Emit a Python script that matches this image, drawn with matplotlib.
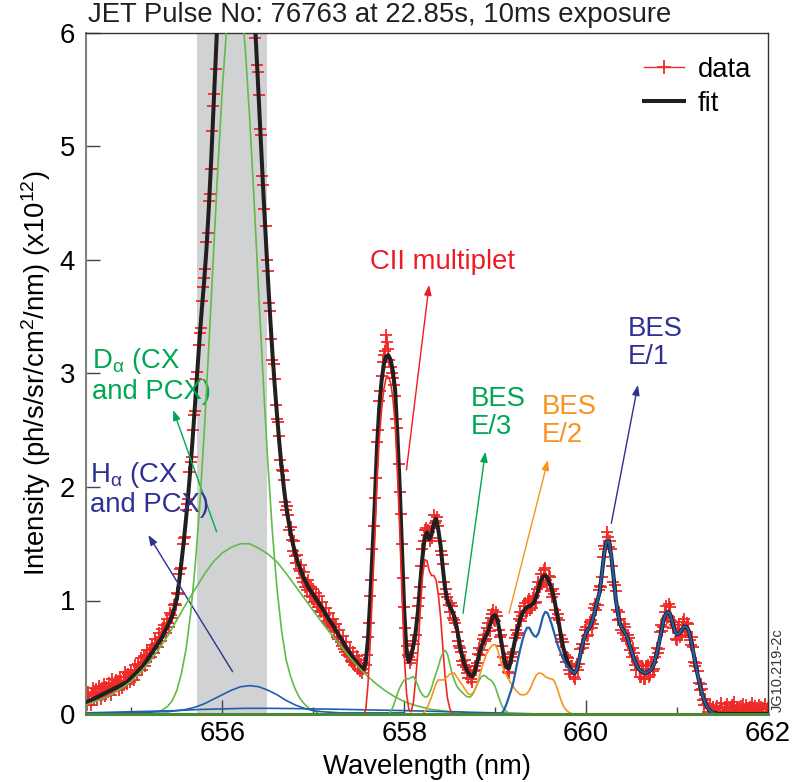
import numpy as np
import matplotlib
matplotlib.use('Agg')
import matplotlib.pyplot as plt
from matplotlib.lines import Line2D

plt.rcParams['font.family'] = 'Liberation Sans'
plt.rcParams['mathtext.fontset'] = 'custom'
plt.rcParams['mathtext.rm'] = 'Liberation Sans'
plt.rcParams['mathtext.it'] = 'Liberation Sans:italic'

FS = 19.8

# fit curve, sampled every 0.025 nm
fit_wl = np.linspace(654.5, 662.0, 301)
fit = [
    0.10, 0.11, 0.12, 0.13, 0.14, 0.15, 0.16, 0.17, 0.18, 0.19,
    0.20, 0.21, 0.22, 0.23, 0.24, 0.25, 0.26, 0.27, 0.28, 0.30,
    0.32, 0.34, 0.36, 0.38, 0.40, 0.42, 0.45, 0.48, 0.51, 0.54,
    0.57, 0.60, 0.63, 0.66, 0.70, 0.74, 0.78, 0.82, 0.87, 0.94,
    1.02, 1.17, 1.34, 1.52, 1.72, 1.94, 2.18, 2.45, 2.74, 3.04,
    3.32, 3.58, 3.82, 4.10, 4.45, 4.85, 5.30, 5.75, 6.20, 6.65,
    7.10, 7.45, 7.75, 8.00, 8.15, 8.25, 8.30, 8.25, 8.12, 7.92,
    7.65, 7.35, 7.00, 6.62, 6.22, 5.82, 5.42, 5.00, 4.60, 4.22,
    3.85, 3.50, 3.18, 2.90, 2.64, 2.40, 2.18, 2.00, 1.84, 1.71,
    1.60, 1.50, 1.42, 1.35, 1.29, 1.24, 1.19, 1.15, 1.11, 1.08,
    1.05, 1.02, 0.99, 0.96, 0.93, 0.89, 0.86, 0.83, 0.80, 0.77,
    0.73, 0.70, 0.67, 0.64, 0.60, 0.57, 0.54, 0.51, 0.48, 0.46,
    0.43, 0.41, 0.39, 0.45, 0.65, 1.00, 1.42, 1.85, 2.35, 2.70,
    2.93, 3.08, 3.15, 3.16, 3.12, 3.02, 2.85, 2.45, 2.00, 1.45,
    0.90, 0.55, 0.46, 0.52, 0.60, 0.72, 0.90, 1.15, 1.38, 1.56,
    1.60, 1.54, 1.58, 1.68, 1.72, 1.62, 1.48, 1.28, 1.10, 1.00,
    0.95, 0.91, 0.86, 0.77, 0.66, 0.55, 0.47, 0.41, 0.37, 0.34,
    0.33, 0.37, 0.45, 0.53, 0.60, 0.65, 0.69, 0.74, 0.80, 0.86,
    0.87, 0.83, 0.72, 0.60, 0.48, 0.41, 0.40, 0.48, 0.58, 0.68,
    0.76, 0.84, 0.89, 0.92, 0.94, 0.95, 0.96, 0.98, 1.03, 1.10,
    1.17, 1.21, 1.22, 1.20, 1.15, 1.09, 1.01, 0.90, 0.80, 0.68,
    0.58, 0.51, 0.45, 0.40, 0.37, 0.36, 0.40, 0.48, 0.58, 0.66,
    0.72, 0.75, 0.78, 0.84, 0.92, 1.00, 1.08, 1.25, 1.42, 1.52,
    1.52, 1.40, 1.22, 1.02, 0.88, 0.79, 0.75, 0.72, 0.68, 0.62,
    0.55, 0.49, 0.44, 0.40, 0.38, 0.37, 0.36, 0.37, 0.38, 0.40,
    0.45, 0.53, 0.62, 0.72, 0.82, 0.88, 0.90, 0.88, 0.80, 0.73,
    0.70, 0.71, 0.74, 0.77, 0.77, 0.74, 0.66, 0.56, 0.45, 0.35,
    0.26, 0.18, 0.12, 0.07, 0.04, 0.02, 0.01, 0.01, 0.00, 0.00,
    0.00, 0.00, 0.00, 0.00, 0.00, 0.00, 0.00, 0.00, 0.00, 0.00,
    0.00, 0.00, 0.00, 0.00, 0.00, 0.00, 0.00, 0.00, 0.00, 0.00,
    0.00,
]

# measured spectrum, one pixel every 0.0125 nm
data_wl = np.linspace(654.5, 662.0, 601)
data = [
    0.16, 0.08, 0.19, 0.13, 0.08, 0.18, 0.23, 0.12, 0.18, 0.22, 0.12, 0.25, 0.18, 0.13, 0.23, 0.19, 0.26, 0.16, 0.24, 0.19,
    0.27, 0.23, 0.17, 0.31, 0.25, 0.21, 0.30, 0.25, 0.29, 0.21, 0.33, 0.29, 0.23, 0.33, 0.37, 0.29, 0.26, 0.35, 0.32, 0.28,
    0.39, 0.34, 0.30, 0.43, 0.39, 0.34, 0.44, 0.41, 0.49, 0.39, 0.46, 0.51, 0.42, 0.52, 0.56, 0.49, 0.56, 0.50, 0.61, 0.58,
    0.54, 0.66, 0.62, 0.59, 0.71, 0.68, 0.64, 0.75, 0.71, 0.78, 0.71, 0.84, 0.80, 0.77, 0.89, 0.87, 0.85, 0.96, 0.97, 0.96,
    1.07, 1.06, 1.23, 1.28, 1.29, 1.50, 1.55, 1.56, 1.80, 1.85, 1.89, 2.13, 2.22, 2.26, 2.50, 2.63, 2.67, 2.95, 3.01, 3.25,
    3.36, 3.40, 3.64, 3.76, 3.84, 3.92, 4.16, 4.24, 4.52, 4.58, 4.80, 5.14, 5.36, 5.46, 5.68, 6.05, 6.30, 6.35, 6.70, 6.90,
    7.20, 7.30, 7.50, 7.60, 7.80, 7.90, 8.00, 8.10, 8.20, 8.20, 8.30, 8.30, 8.30, 8.20, 8.30, 8.20, 8.10, 8.00, 7.90, 7.80,
    7.70, 7.45, 7.30, 7.20, 7.05, 6.75, 6.55, 6.35, 6.28, 5.96, 5.72, 5.66, 5.45, 5.15, 5.10, 4.74, 4.66, 4.45, 4.30, 4.00,
    3.90, 3.62, 3.55, 3.30, 3.12, 3.08, 2.95, 2.72, 2.60, 2.57, 2.45, 2.24, 2.15, 2.14, 2.06, 1.87, 1.80, 1.83, 1.75, 1.62,
    1.65, 1.53, 1.44, 1.52, 1.39, 1.33, 1.40, 1.28, 1.26, 1.31, 1.20, 1.16, 1.25, 1.12, 1.09, 1.18, 1.13, 1.04, 1.12, 1.03,
    1.10, 0.99, 1.07, 0.97, 0.94, 1.04, 0.91, 0.90, 0.99, 0.86, 0.87, 0.93, 0.82, 0.80, 0.89, 0.78, 0.77, 0.84, 0.73, 0.79,
    0.79, 0.68, 0.66, 0.74, 0.63, 0.60, 0.69, 0.57, 0.55, 0.63, 0.52, 0.51, 0.58, 0.47, 0.46, 0.55, 0.43, 0.45, 0.51, 0.40,
    0.48, 0.38, 0.44, 0.36, 0.40, 0.45, 0.43, 0.52, 0.68, 0.80, 1.04, 1.18, 1.45, 1.66, 1.90, 2.08, 2.40, 2.50, 2.76, 2.85,
    2.98, 3.10, 3.16, 3.20, 3.34, 3.28, 3.22, 3.12, 3.06, 3.00, 2.96, 2.90, 2.80, 2.60, 2.52, 2.20, 1.96, 1.76, 1.50, 1.20,
    0.94, 0.76, 0.60, 0.52, 0.50, 0.45, 0.48, 0.54, 0.64, 0.62, 0.70, 0.85, 0.95, 1.02, 1.12, 1.30, 1.45, 1.52, 1.62, 1.64,
    1.58, 1.62, 1.60, 1.52, 1.55, 1.66, 1.75, 1.68, 1.70, 1.74, 1.66, 1.52, 1.44, 1.40, 1.32, 1.16, 1.06, 1.10, 1.03, 0.96,
    0.90, 0.98, 0.95, 0.85, 0.83, 0.80, 0.72, 0.64, 0.60, 0.58, 0.55, 0.47, 0.43, 0.48, 0.41, 0.36, 0.32, 0.39, 0.37, 0.31,
    0.28, 0.38, 0.42, 0.39, 0.45, 0.53, 0.58, 0.52, 0.56, 0.66, 0.70, 0.64, 0.66, 0.76, 0.80, 0.73, 0.85, 0.88, 0.92, 0.83,
    0.82, 0.90, 0.86, 0.74, 0.68, 0.70, 0.60, 0.50, 0.43, 0.49, 0.45, 0.37, 0.36, 0.47, 0.53, 0.50, 0.55, 0.67, 0.74, 0.70,
    0.71, 0.84, 0.90, 0.82, 0.86, 0.95, 0.98, 0.89, 0.91, 1.00, 1.01, 0.92, 0.93, 1.02, 1.04, 0.98, 0.99, 1.10, 1.16, 1.12,
    1.23, 1.15, 1.16, 1.27, 1.29, 1.18, 1.14, 1.22, 1.21, 1.08, 1.03, 1.10, 1.06, 0.92, 0.85, 0.88, 0.83, 0.70, 0.63, 0.66,
    0.63, 0.52, 0.46, 0.50, 0.49, 0.39, 0.35, 0.42, 0.42, 0.33, 0.31, 0.41, 0.44, 0.39, 0.44, 0.57, 0.62, 0.58, 0.62, 0.74,
    0.77, 0.69, 0.70, 0.81, 0.83, 0.76, 0.79, 0.93, 0.97, 0.92, 0.96, 1.09, 1.13, 1.12, 1.21, 1.38, 1.48, 1.45, 1.60, 1.56,
    1.47, 1.52, 1.45, 1.30, 1.16, 1.14, 1.08, 0.92, 0.83, 0.90, 0.84, 0.74, 0.71, 0.79, 0.77, 0.66, 0.64, 0.70, 0.67, 0.56,
    0.50, 0.58, 0.54, 0.43, 0.39, 0.47, 0.45, 0.33, 0.33, 0.42, 0.40, 0.31, 0.31, 0.42, 0.43, 0.33, 0.34, 0.45, 0.46, 0.38,
    0.40, 0.50, 0.58, 0.54, 0.57, 0.72, 0.78, 0.73, 0.77, 0.90, 0.95, 0.85, 0.86, 0.97, 0.94, 0.82, 0.76, 0.81, 0.78, 0.66,
    0.65, 0.75, 0.78, 0.68, 0.70, 0.81, 0.84, 0.73, 0.72, 0.80, 0.79, 0.65, 0.61, 0.68, 0.59, 0.46, 0.42, 0.45, 0.38, 0.27,
    0.21, 0.26, 0.22, 0.12, 0.08, 0.13, 0.09, 0.02, 0.05, 0.08, 0.00, 0.04, 0.06, -0.01, 0.02, 0.07, 0.03, -0.02, 0.05, 0.10,
    0.02, -0.01, 0.06, 0.03, 0.09, 0.01, -0.02, 0.05, 0.08, 0.02, 0.11, 0.03, -0.01, 0.06, 0.04, 0.00, 0.07, 0.02, 0.09, 0.03,
    0.01, 0.08, 0.04, -0.02, 0.06, 0.03, 0.10, 0.01, 0.05, 0.07, -0.01, 0.04, 0.08, 0.02, 0.06, -0.02, 0.05, 0.09, 0.02, 0.04,
    0.05,
]

# fitted components
da_nar_wl = np.linspace(655.30, 657.05, 36)
da_nar = [0.02, 0.04, 0.07, 0.12, 0.21, 0.36, 0.57, 0.88, 1.30, 1.83,
          2.48, 3.23, 4.02, 4.81, 5.52, 6.08, 6.41, 6.50, 6.31, 5.88,
          5.25, 4.50, 3.70, 2.92, 2.21, 1.60, 1.11, 0.74, 0.48, 0.33,
          0.22, 0.14, 0.09, 0.05, 0.03, 0.01]

da_brd_wl = np.linspace(654.5, 662.0, 76)
da_brd = [0.08, 0.11, 0.14, 0.18, 0.23, 0.29, 0.37, 0.46, 0.57, 0.69,
          0.83, 0.97, 1.10, 1.23, 1.34, 1.42, 1.47, 1.50, 1.50, 1.46,
          1.41, 1.34, 1.24, 1.13, 1.02, 0.91, 0.80, 0.70, 0.60, 0.50,
          0.41, 0.33, 0.26, 0.20, 0.15, 0.11, 0.08, 0.06, 0.04, 0.03,
          0.02, 0.02, 0.01, 0.01, 0.01, 0.00, 0.00, 0.00, 0.00, 0.00,
          0.00, 0.00, 0.00, 0.00, 0.00, 0.00, 0.00, 0.00, 0.00, 0.00,
          0.00, 0.00, 0.00, 0.00, 0.00, 0.00, 0.00, 0.00, 0.00, 0.00,
          0.00, 0.00, 0.00, 0.00, 0.00, 0.00]

ha_nar_wl = np.linspace(654.5, 658.0, 36)
ha_nar = [0.01, 0.01, 0.01, 0.01, 0.01, 0.01, 0.01, 0.015, 0.02, 0.02,
          0.03, 0.04, 0.06, 0.09, 0.13, 0.17, 0.21, 0.24, 0.25, 0.24,
          0.21, 0.17, 0.12, 0.08, 0.05, 0.03, 0.02, 0.015, 0.01, 0.01,
          0.01, 0.01, 0.01, 0.01, 0.01, 0.01]

ha_brd_wl = np.linspace(654.5, 659.5, 21)
ha_brd = [0.01, 0.015, 0.02, 0.025, 0.03, 0.04, 0.045, 0.05, 0.05, 0.048,
          0.045, 0.042, 0.038, 0.034, 0.03, 0.025, 0.02, 0.015, 0.01, 0.005,
          0.0]

cii_wl = np.linspace(657.55, 658.55, 41)
cii = [0.00, 0.03, 0.25, 0.62, 1.08, 1.52, 2.05, 2.42, 2.68, 2.86,
       2.96, 2.97, 2.92, 2.78, 2.55, 2.12, 1.62, 1.05, 0.52, 0.18,
       0.04, 0.02, 0.10, 0.30, 0.55, 0.90, 1.20, 1.36, 1.35, 1.26,
       1.22, 1.22, 1.18, 1.05, 0.85, 0.58, 0.32, 0.14, 0.05, 0.01,
       0.00]

e3_wl = np.linspace(657.825, 659.175, 55)
e3 = [0.00, 0.02, 0.06, 0.12, 0.18, 0.23, 0.27, 0.30, 0.31, 0.31,
      0.32, 0.33, 0.30, 0.25, 0.20, 0.17, 0.15, 0.15, 0.18, 0.23,
      0.30, 0.36, 0.42, 0.49, 0.54, 0.56, 0.53, 0.44, 0.36, 0.30,
      0.25, 0.22, 0.20, 0.18, 0.16, 0.15, 0.15, 0.17, 0.21, 0.26,
      0.30, 0.33, 0.34, 0.33, 0.31, 0.30, 0.28, 0.24, 0.18, 0.12,
      0.07, 0.04, 0.02, 0.01, 0.00]

e2_wl = np.linspace(658.20, 659.85, 67)
e2 = [0.00, 0.02, 0.05, 0.10, 0.15, 0.21, 0.27, 0.30, 0.30, 0.30,
      0.31, 0.33, 0.35, 0.36, 0.36, 0.33, 0.30, 0.27, 0.24, 0.21,
      0.18, 0.17, 0.18, 0.21, 0.26, 0.33, 0.40, 0.46, 0.52, 0.56,
      0.59, 0.61, 0.61, 0.57, 0.50, 0.43, 0.38, 0.34, 0.30, 0.27,
      0.24, 0.21, 0.19, 0.17, 0.17, 0.17, 0.18, 0.21, 0.25, 0.30,
      0.34, 0.36, 0.36, 0.35, 0.33, 0.32, 0.31, 0.31, 0.29, 0.24,
      0.18, 0.12, 0.07, 0.04, 0.02, 0.01, 0.00]

e1_wl = np.linspace(659.05, 661.45, 97)
e1 = [0.00, 0.01, 0.04, 0.09, 0.15, 0.21, 0.28, 0.38, 0.48, 0.57,
      0.65, 0.72, 0.76, 0.76, 0.72, 0.69, 0.68, 0.71, 0.78, 0.86,
      0.90, 0.89, 0.84, 0.78, 0.71, 0.64, 0.58, 0.53, 0.48, 0.44,
      0.41, 0.39, 0.37, 0.36, 0.40, 0.48, 0.58, 0.66, 0.72, 0.75,
      0.78, 0.84, 0.92, 1.00, 1.08, 1.25, 1.42, 1.52, 1.52, 1.40,
      1.22, 1.02, 0.88, 0.79, 0.75, 0.72, 0.68, 0.62, 0.55, 0.49,
      0.44, 0.40, 0.38, 0.37, 0.36, 0.37, 0.38, 0.40, 0.45, 0.53,
      0.62, 0.72, 0.82, 0.88, 0.90, 0.88, 0.80, 0.73, 0.70, 0.71,
      0.74, 0.77, 0.77, 0.74, 0.66, 0.56, 0.45, 0.35, 0.26, 0.18,
      0.12, 0.07, 0.04, 0.02, 0.01, 0.00, 0.00]

RED = '#ee2a27'
GREEN = '#62bb47'
DKGREEN = '#00a651'
BLUE = '#1f5fae'
NAVY = '#2e3192'
ORANGE = '#f7931e'

fig = plt.figure(figsize=(7.92, 7.82), dpi=100)
ax = fig.add_axes([86/792, 1 - 714/782, 682/792, 681/782])

ax.axvspan(655.72, 656.49, color='#d1d2d4', lw=0, zorder=0)

ax.plot(data_wl, data, '-', color=RED, lw=0.8, zorder=2)
ax.plot(data_wl, data, '+', color=RED, ms=9, mew=1.3, zorder=2)
ax.plot(fit_wl, fit, color='#231f20', lw=2.9, zorder=3)

ax.plot(da_nar_wl, da_nar, color=GREEN, lw=1.2, zorder=4)
ax.plot(da_brd_wl, da_brd, color=GREEN, lw=1.2, zorder=4)
ax.plot(ha_brd_wl, ha_brd, color=BLUE, lw=1.2, zorder=4)
ax.plot(ha_nar_wl, ha_nar, color=BLUE, lw=1.2, zorder=4)
ax.plot(cii_wl, cii, color=RED, lw=1.2, zorder=4)
ax.plot(e3_wl, e3, color=GREEN, lw=1.2, zorder=4)
ax.plot(e2_wl, e2, color=ORANGE, lw=1.2, zorder=4)
ax.plot(e1_wl, e1, color=BLUE, lw=1.6, zorder=4)
ax.axhline(0, color='#4a8a33', lw=2.2, zorder=5, clip_on=False)

ax.set_xlim(654.5, 662.0)
ax.set_ylim(0, 6)
ax.set_xticks([656, 658, 660, 662])
ax.set_xticks([655, 657, 659, 661], minor=True)
ax.set_yticks([0, 1, 2, 3, 4, 5, 6])
ax.tick_params(direction='in', labelsize=FS, length=10, width=1, color='#444444')
ax.tick_params(axis='x', pad=5)
ax.tick_params(axis='y', pad=8)
ax.tick_params(which='minor', direction='in', length=5, width=1, color='#444444')
for s in ['top', 'right', 'bottom']:
    ax.spines[s].set_color('#333333')
    ax.spines[s].set_linewidth(1.0)
ax.spines['left'].set_color('#808080')
ax.spines['left'].set_linewidth(1.5)

ax.set_xlabel('Wavelength (nm)', fontsize=FS, labelpad=5)
ax.set_ylabel(r'Intensity (ph/s/sr/cm$^2$/nm) (x10$^{12}$)', fontsize=FS, labelpad=5)

fig.text(88/792, 1 - 15.5/782, 'JET Pulse No: 76763 at 22.85s, 10ms exposure',
         fontsize=FS, va='center', ha='left', color='#231f20')

# labels and arrows
def label(x, y, s, c, ha='left'):
    ax.text(x, y, s, color=c, fontsize=FS, ha=ha, va='top', linespacing=1.12)

def arrow(tail, head, c):
    ax.annotate('', xy=head, xytext=tail,
                arrowprops=dict(arrowstyle='-|>,head_length=0.6,head_width=0.22',
                                color=c, lw=1.0, shrinkA=0, shrinkB=0))

label(654.563, 3.24, 'D$_{\\mathrm{\\alpha}}$ (CX\nand PCX)', DKGREEN)
arrow((655.936, 1.606), (655.459, 2.678), DKGREEN)
label(654.544, 2.24, 'H$_{\\mathrm{\\alpha}}$ (CX\nand PCX)', NAVY)
arrow((656.112, 0.373), (655.185, 1.577), NAVY)
label(658.423, 4.10, 'CII multiplet', '#ed1c24', ha='center')
arrow((658.024, 2.15), (658.273, 3.78), '#ed1c24')
label(658.727, 2.89, 'BES\nE/3', DKGREEN)
arrow((658.646, 0.887), (658.892, 2.311), DKGREEN)
label(659.508, 2.82, 'BES\nE/2', ORANGE)
arrow((659.152, 0.887), (659.580, 2.238), ORANGE)
label(660.459, 3.51, 'BES\nE/1', NAVY)
arrow((660.277, 1.68), (660.569, 2.899), NAVY)

handles = [Line2D([], [], color=RED, lw=1.0, marker='+', ms=10, mew=1.3),
           Line2D([], [], color='#231f20', lw=2.9)]
ax.legend(handles, ['data', 'fit'], loc='upper right', frameon=False,
          fontsize=FS, handlelength=1.45, handletextpad=0.5, labelspacing=0.28,
          borderpad=0, borderaxespad=0, bbox_to_anchor=(0.975, 0.965))

fig.text(778/792, 1 - 670/782, 'JG10.219-2c', rotation=90, fontsize=10.5,
         va='center', ha='center', color='#333333')

fig.savefig('out.png', dpi=100)
